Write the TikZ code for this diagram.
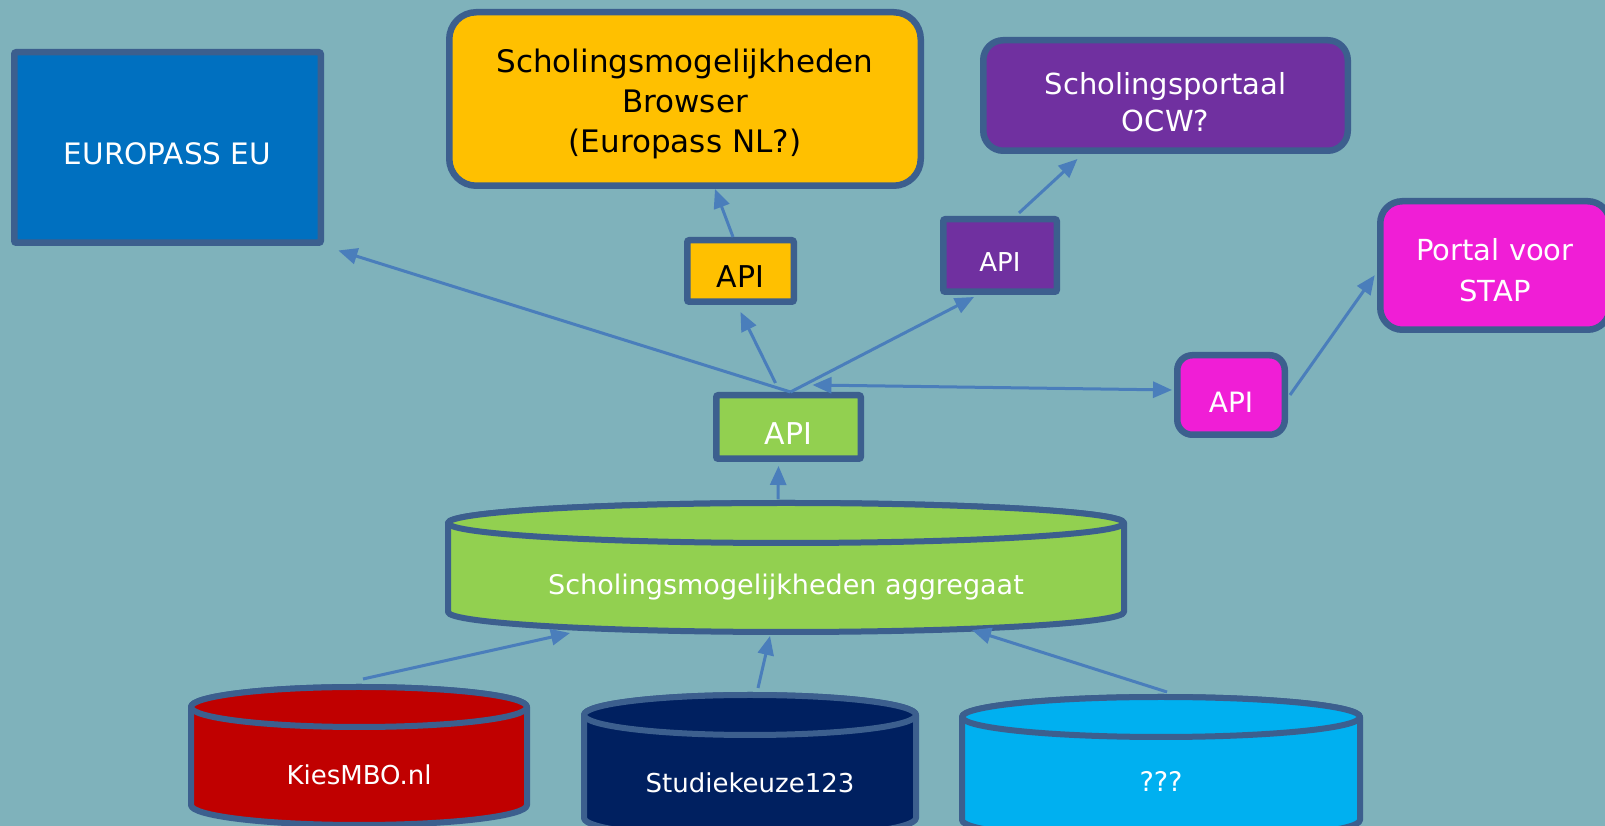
\documentclass[tikz,border=0pt]{standalone}
\usepackage{fontspec}
\setmainfont{DejaVu Sans}
\usetikzlibrary{arrows.meta}

\definecolor{bgteal}{HTML}{7FB2BB}
\definecolor{rimblue}{HTML}{3C5F8E}
\definecolor{flowblue}{HTML}{4A7EBB}
\definecolor{eublue}{HTML}{0070C0}
\definecolor{browsergold}{HTML}{FFC000}
\definecolor{ocwpurple}{HTML}{7030A0}
\definecolor{stappink}{HTML}{F01ED6}
\definecolor{aggrgreen}{HTML}{92D050}
\definecolor{kiesred}{HTML}{C00000}
\definecolor{studienavy}{HTML}{002060}
\definecolor{unknownblue}{HTML}{00B0F0}

\newcommand{\lowered}[2]{\raisebox{-#1pt}[\height][\depth]{\begin{tabular}{@{}c@{}}#2\end{tabular}}}

\begin{document}
\begin{tikzpicture}[x=1pt, y=1pt, >={Triangle[length=19pt, width=16pt]},
	box/.style={draw=rimblue, line width=6.5pt, text=white, inner sep=0pt, rounded corners=2pt},
	cyl/.style={draw=rimblue, line width=6pt, line join=round},
	arr/.style={draw=flowblue, line width=3pt}]
	\fill[bgteal] (0, 0) rectangle (1605, 826);
	\useasboundingbox (0, 0) rectangle (1605, 826);

	\filldraw[cyl, fill=aggrgreen] (448, 303) -- (448, 214) arc[start angle=180, end angle=360, x radius=338, y radius=20] -- (1124, 303) arc[start angle=0, end angle=180, x radius=338, y radius=20] -- cycle;
	\draw[cyl, fill=aggrgreen] (786, 303) ellipse[x radius=338, y radius=20];
	\node[text=white, font=\fontsize{27}{32}\selectfont] (aggr) at (786, 239) {Scholingsmogelijkheden aggregaat};

	\filldraw[cyl, fill=kiesred] (191, 119) -- (191, 21) arc[start angle=180, end angle=360, x radius=168, y radius=20] -- (527, 119) arc[start angle=0, end angle=180, x radius=168, y radius=20] -- cycle;
	\draw[cyl, fill=kiesred] (359, 119) ellipse[x radius=168, y radius=20];
	\node[text=white, font=\fontsize{26}{31}\selectfont] (kies) at (359, 51) {KiesMBO.nl};

	\filldraw[cyl, fill=studienavy] (584, 111) -- (584, 8) arc[start angle=180, end angle=360, x radius=166, y radius=20] -- (916, 111) arc[start angle=0, end angle=180, x radius=166, y radius=20] -- cycle;
	\draw[cyl, fill=studienavy] (750, 111) ellipse[x radius=166, y radius=20];
	\node[text=white, font=\fontsize{26}{31}\selectfont] (studie) at (750, 43) {Studiekeuze123};

	\filldraw[cyl, fill=unknownblue] (962, 109) -- (962, 6) arc[start angle=180, end angle=360, x radius=199, y radius=20] -- (1360, 109) arc[start angle=0, end angle=180, x radius=199, y radius=20] -- cycle;
	\draw[cyl, fill=unknownblue] (1161, 109) ellipse[x radius=199, y radius=20];
	\node[text=white, font=\fontsize{27}{32}\selectfont] (unknown) at (1161, 45) {???};

	\coordinate (aggr top) at (778, 327);
	\coordinate (aggr in left) at (570, 193);
	\coordinate (aggr in mid) at (770, 190);
	\coordinate (aggr in right) at (972, 196);
	\coordinate (kies top) at (363, 147);
	\coordinate (studie top) at (758, 138);
	\coordinate (unknown top) at (1167, 134);

	\node[box, fill=eublue, minimum width=306.5pt, minimum height=190.5pt, font=\fontsize{29.5}{36}\selectfont] (eu) at (167.5, 678.5) {\raisebox{-6pt}[\height][\depth]{EUROPASS EU}};
	\node[box, fill=browsergold, text=black, rounded corners=27pt, minimum width=471.5pt, minimum height=173.5pt, font=\fontsize{31}{40}\selectfont] (browser) at (685, 727) {\lowered{6}{Scholingsmogelijkheden\\Browser\\(Europass NL?)}};
	\node[box, fill=ocwpurple, rounded corners=20pt, minimum width=364.5pt, minimum height=110.5pt, font=\fontsize{29}{37}\selectfont] (ocw) at (1165.5, 730.5) {\lowered{10}{Scholingsportaal\\OCW?}};
	\node[box, fill=stappink, rounded corners=22pt, minimum width=229.5pt, minimum height=128.5pt, font=\fontsize{29}{41}\selectfont] (stap) at (1495, 560.5) {\lowered{7.5}{Portal voor\\STAP}};

	\node[box, fill=browsergold, text=black, minimum width=106.5pt, minimum height=61.5pt, font=\fontsize{30}{36}\selectfont] (yapi) at (740.5, 555) {\raisebox{-6pt}[\height][\depth]{API}};
	\node[box, fill=ocwpurple, minimum width=113.5pt, minimum height=72.5pt, font=\fontsize{26}{31}\selectfont] (papi) at (1000, 570.5) {\raisebox{-7pt}[\height][\depth]{API}};
	\node[box, fill=stappink, rounded corners=15pt, minimum width=107.5pt, minimum height=79.5pt, font=\fontsize{28}{34}\selectfont] (mapi) at (1231, 431) {\raisebox{-7pt}[\height][\depth]{API}};
	\node[box, fill=aggrgreen, minimum width=144.5pt, minimum height=63.5pt, font=\fontsize{30}{36}\selectfont] (gapi) at (788.5, 399) {\raisebox{-7pt}[\height][\depth]{API}};

	\draw[->, arr, shorten >=15pt] ([xshift=2pt]gapi.north) -- (eu.south east);
	\draw[->, arr] ([xshift=-13pt, yshift=9pt]gapi.north) -- ([yshift=-7pt]yapi.south);
	\draw[->, arr] ([xshift=2pt]gapi.north) -- ([xshift=-26pt, yshift=-2pt]papi.south);
	\draw[<->, arr] ([xshift=24pt, yshift=7pt]gapi.north) -- ([xshift=-2pt, yshift=5pt]mapi.west);
	\draw[->, arr] ([xshift=-7.5pt]yapi.north) -- ([xshift=30pt]browser.south);
	\draw[->, arr] ([xshift=19pt, yshift=3pt]papi.north) -- ([xshift=-88pt, yshift=-5pt]ocw.south);
	\draw[->, arr, shorten >=4pt] ([xshift=2pt]mapi.east) -- ([yshift=-6.5pt]stap.west);
	\draw[->, arr] (aggr top) -- ([xshift=-10pt, yshift=-4pt]gapi.south);
	\draw[->, arr] (kies top) -- (aggr in left);
	\draw[->, arr] (studie top) -- (aggr in mid);
	\draw[->, arr] (unknown top) -- (aggr in right);
\end{tikzpicture}
\end{document}
